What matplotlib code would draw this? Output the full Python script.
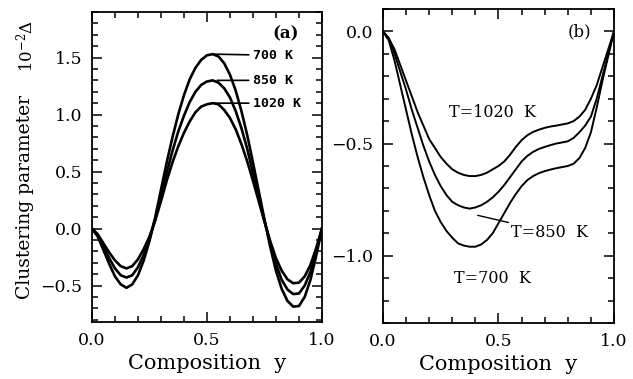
import matplotlib
matplotlib.use("Agg")
import matplotlib.pyplot as plt
from matplotlib.ticker import MultipleLocator

# Composition y (shared grid for all curves)
y_comp = [0.000, 0.025, 0.050, 0.075, 0.100, 0.125, 0.150, 0.175, 0.200, 0.225,
          0.250, 0.275, 0.300, 0.325, 0.350, 0.375, 0.400, 0.425, 0.450, 0.475,
          0.500, 0.525, 0.550, 0.575, 0.600, 0.625, 0.650, 0.675, 0.700, 0.725,
          0.750, 0.775, 0.800, 0.825, 0.850, 0.875, 0.900, 0.925, 0.950, 0.975,
          1.000]

# panel (a): clustering parameter (units of 1e-2)
a_700 = [0.00, -0.07, -0.19, -0.31, -0.42, -0.49, -0.52, -0.49, -0.41, -0.28,
         -0.11, 0.10, 0.34, 0.58, 0.80, 1.00, 1.17, 1.31, 1.41, 1.48,
         1.52, 1.53, 1.51, 1.45, 1.35, 1.21, 1.03, 0.82, 0.58, 0.33,
         0.08, -0.16, -0.37, -0.53, -0.635, -0.685, -0.68, -0.60, -0.45, -0.24,
         0.00]
a_850 = [0.00, -0.06, -0.16, -0.26, -0.35, -0.41, -0.43, -0.41, -0.34, -0.23,
         -0.09, 0.08, 0.29, 0.49, 0.68, 0.85, 0.99, 1.11, 1.20, 1.26,
         1.29, 1.30, 1.28, 1.23, 1.15, 1.03, 0.88, 0.70, 0.49, 0.28,
         0.07, -0.13, -0.31, -0.45, -0.535, -0.575, -0.57, -0.50, -0.38, -0.20,
         0.00]
a_1020 = [0.00, -0.05, -0.13, -0.21, -0.28, -0.33, -0.35, -0.33, -0.27, -0.18,
          -0.07, 0.07, 0.24, 0.42, 0.58, 0.72, 0.84, 0.94, 1.02, 1.07,
          1.09, 1.10, 1.09, 1.04, 0.97, 0.87, 0.74, 0.59, 0.42, 0.24,
          0.06, -0.11, -0.26, -0.37, -0.445, -0.48, -0.475, -0.42, -0.32, -0.17,
          0.00]

# panel (b)
b_700 = [0.00, -0.04, -0.13, -0.24, -0.35, -0.46, -0.56, -0.65, -0.73, -0.80,
         -0.85, -0.89, -0.92, -0.945, -0.955, -0.96, -0.96, -0.95, -0.93, -0.90,
         -0.855, -0.81, -0.765, -0.725, -0.69, -0.663, -0.645, -0.632, -0.623, -0.616,
         -0.61, -0.605, -0.60, -0.59, -0.565, -0.52, -0.45, -0.34, -0.22, -0.11,
         0.00]
b_850 = [0.00, -0.03, -0.10, -0.18, -0.26, -0.35, -0.43, -0.51, -0.58, -0.64,
         -0.69, -0.73, -0.76, -0.775, -0.785, -0.79, -0.785, -0.775, -0.76, -0.74,
         -0.715, -0.685, -0.65, -0.615, -0.58, -0.555, -0.537, -0.524, -0.515, -0.507,
         -0.50, -0.495, -0.49, -0.475, -0.45, -0.42, -0.38, -0.30, -0.20, -0.10,
         0.00]
b_1020 = [0.00, -0.03, -0.08, -0.15, -0.22, -0.29, -0.36, -0.42, -0.48, -0.52,
          -0.56, -0.59, -0.615, -0.63, -0.64, -0.645, -0.645, -0.64, -0.63, -0.615,
          -0.60, -0.58, -0.55, -0.515, -0.485, -0.463, -0.448, -0.438, -0.43, -0.424,
          -0.42, -0.415, -0.41, -0.40, -0.38, -0.35, -0.30, -0.24, -0.16, -0.08,
          0.00]

plt.rcParams["font.family"] = "DejaVu Serif"
plt.rcParams["mathtext.fontset"] = "dejavuserif"

fig = plt.figure(figsize=(6.33, 3.79), dpi=100)
ax_a = fig.add_axes([0.1453, 0.1504, 0.3633, 0.818])
ax_b = fig.add_axes([0.605, 0.1478, 0.365, 0.8285])


def style_axes(ax):
    ax.xaxis.set_major_locator(MultipleLocator(0.5))
    ax.xaxis.set_minor_locator(MultipleLocator(0.1))
    ax.yaxis.set_major_locator(MultipleLocator(0.5))
    ax.yaxis.set_minor_locator(MultipleLocator(0.1))
    ax.tick_params(which="both", direction="in", top=True, right=True,
                   width=1.1, labelsize=12.5, pad=7)
    ax.tick_params(which="major", length=7)
    ax.tick_params(which="minor", length=4)
    for s in ax.spines.values():
        s.set_linewidth(1.3)
    ax.set_xlim(0, 1)
    ax.set_xlabel("Composition  y", fontsize=15, labelpad=4)
    ax.xaxis.set_major_formatter(matplotlib.ticker.FormatStrFormatter("%.1f"))
    ax.yaxis.set_major_formatter(matplotlib.ticker.FuncFormatter(
        lambda v, p: ("%.1f" % v).replace("-", "\u2212")))


# (a)
for vals in (a_700, a_850, a_1020):
    ax_a.plot(y_comp, vals, color="black", lw=1.9)
style_axes(ax_a)
ax_a.set_ylim(-0.82, 1.9)
ax_a.text(0.84, 1.71, "(a)", fontsize=12, fontweight="bold", ha="center", va="center")
lab_kw = dict(fontsize=9.5, fontweight="bold", family="DejaVu Sans Mono",
              ha="left", va="center",
              arrowprops=dict(arrowstyle="-", lw=1.2, color="black", shrinkA=1, shrinkB=0))
ax_a.annotate("700 K", xy=(0.53, max(a_700)), xytext=(0.70, 1.52), **lab_kw)
ax_a.annotate("850 K", xy=(0.545, max(a_850)), xytext=(0.70, 1.30), **lab_kw)
ax_a.annotate("1020 K", xy=(0.535, max(a_1020)), xytext=(0.70, 1.10), **lab_kw)

# (b)
for vals in (b_700, b_850, b_1020):
    ax_b.plot(y_comp, vals, color="black", lw=1.4)
style_axes(ax_b)
ax_b.set_ylim(-1.3, 0.1)
ax_b.text(0.85, 0.0, "(b)", fontsize=12, ha="center", va="center")
ax_b.text(0.475, -0.36, "T=1020  K", fontsize=11.5, ha="center", va="center")
ax_b.text(0.475, -1.10, "T=700  K", fontsize=11.5, ha="center", va="center")
ax_b.annotate("T=850  K", xy=(0.41, -0.82), xytext=(0.555, -0.895),
              fontsize=11.5, ha="left", va="center",
              arrowprops=dict(arrowstyle="-", lw=1.0, color="black", shrinkA=0, shrinkB=0))

# y label in two pieces
fig.text(0.040, 0.48, "Clustering parameter", rotation=90, fontsize=13.5,
         ha="center", va="center")
fig.text(0.040, 0.88, "10$^{-2}$\u0394", rotation=90, fontsize=12,
         ha="center", va="center")

fig.savefig("out.png", dpi=100)
